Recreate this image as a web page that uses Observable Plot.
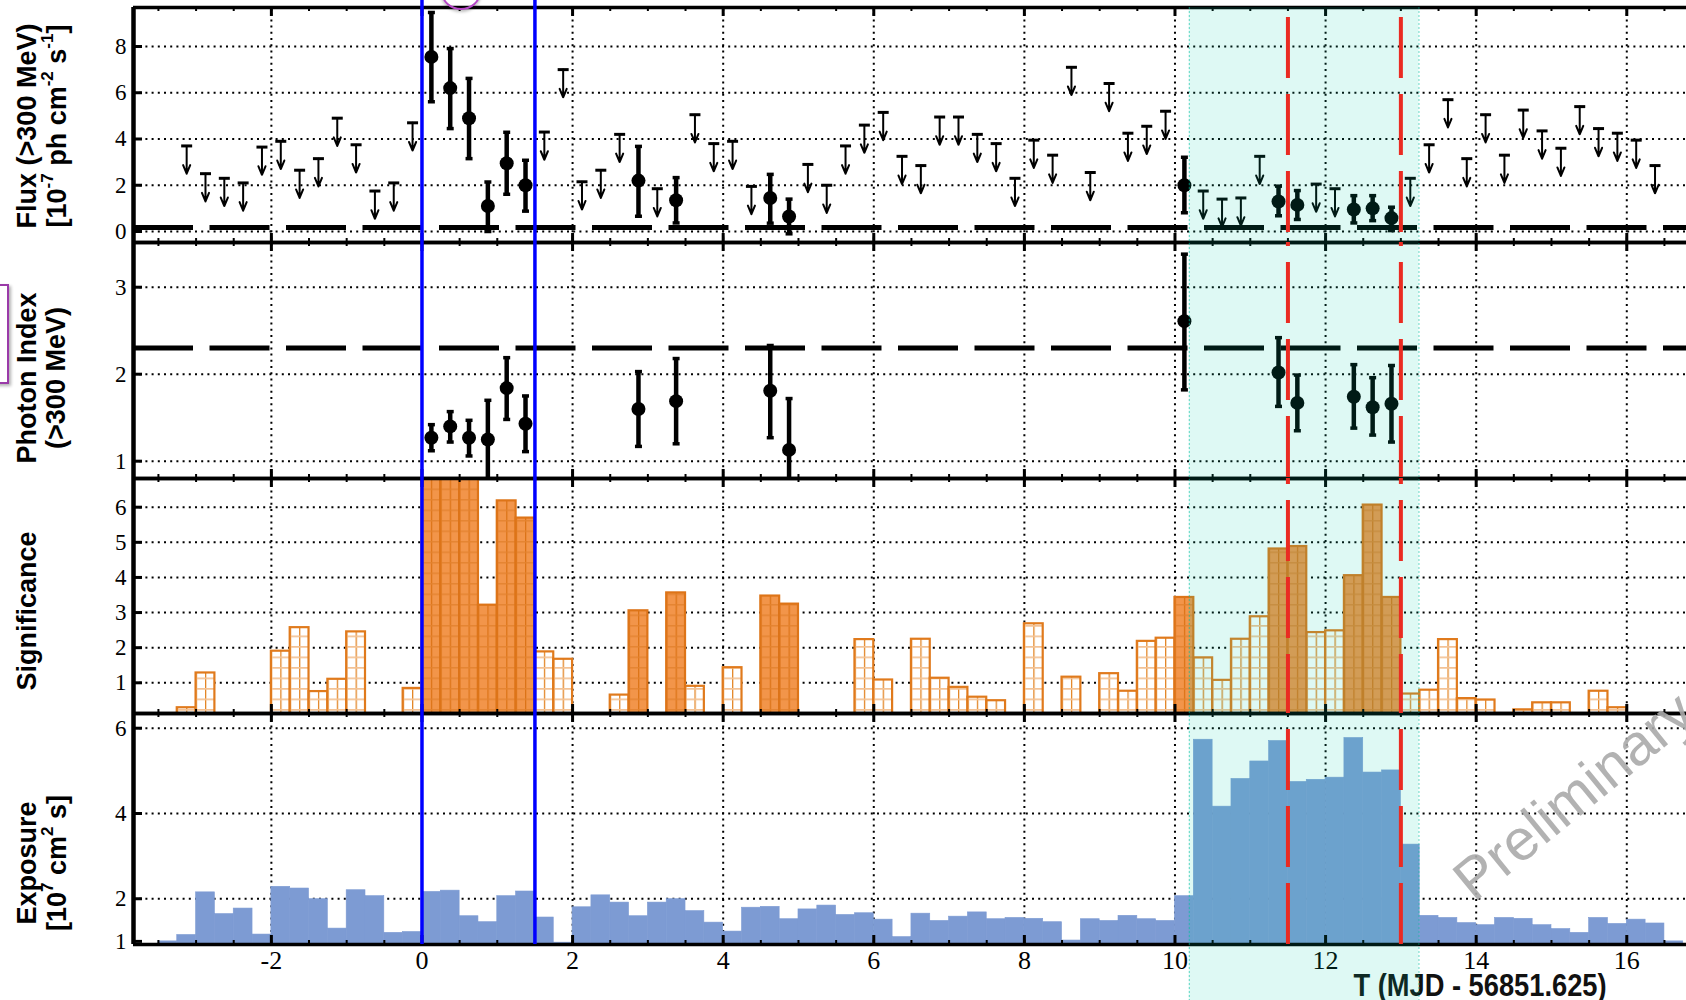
<!DOCTYPE html>
<html><head><meta charset="utf-8">
<script src="https://cdn.jsdelivr.net/npm/d3@7"></script>
<script src="https://cdn.jsdelivr.net/npm/@observablehq/plot@0.6"></script>
<style>
html,body{margin:0;padding:0;background:#fff;overflow:hidden;}
#wrap{position:relative;width:1686px;height:1000px;overflow:hidden;background:#fff;}
</style></head><body><div id="wrap"></div>
<script>
// ---------------- DATA ----------------
// x: T (MJD - 56851.625), 0.25-day bins
const xTickLabels = [-2, 0, 2, 4, 6, 8, 10, 12, 14, 16];
const blueLines = [0, 1.5];
const redLines = [11.5, 13.0];
const bandStart = [10.19];
const bandEnd = [13.24];

// Flux detections (1e-7 ph cm^-2 s^-1)
const fluxTime = [0.125,0.375,0.625,0.875,1.125,1.375,2.875,3.375,4.625,4.875,10.125,11.375,11.625,12.375,12.625,12.875];
const fluxValue = [7.55,6.2,4.9,1.1,2.95,2.0,2.2,1.35,1.45,0.65,2.0,1.3,1.15,0.95,1.0,0.58];
const fluxLow  = [5.61,4.45,3.15,0.0,1.61,0.88,0.66,0.37,0.36,-0.1,0.81,0.68,0.52,0.37,0.47,0.04];
const fluxHigh = [9.47,7.91,6.62,2.14,4.29,3.08,3.68,2.33,2.47,1.40,3.21,1.96,1.77,1.55,1.55,1.05];
// Flux upper limits
const ulTime = [-3.125,-2.875,-2.625,-2.375,-2.125,-1.875,-1.625,-1.375,-1.125,-0.875,-0.625,-0.375,-0.125,1.625,1.875,2.125,2.375,2.625,3.125,3.625,3.875,4.125,4.375,5.125,5.375,5.625,5.875,6.125,6.375,6.625,6.875,7.125,7.375,7.625,7.875,8.125,8.375,8.625,8.875,9.125,9.375,9.625,9.875,10.375,10.625,10.875,11.125,11.875,12.125,13.125,13.375,13.625,13.875,14.125,14.375,14.625,14.875,15.125,15.375,15.625,15.875,16.125,16.375];
const ulValue = [3.7,2.5,2.3,2.1,3.65,3.9,2.65,3.15,4.9,3.75,1.75,2.1,4.7,4.3,7.0,2.15,2.65,4.2,1.85,5.05,3.8,3.9,1.95,2.9,2.0,3.7,4.6,5.15,3.25,2.85,4.95,4.95,4.2,3.8,2.3,3.95,3.3,7.1,2.55,6.4,4.25,4.55,5.2,1.75,1.4,1.45,3.25,2.05,1.85,2.3,3.75,5.7,3.15,5.05,3.3,5.25,4.35,3.6,5.4,4.45,4.25,3.95,2.85];
const fluxRef = [0.17];

// Photon index
const indexTime = [0.125,0.375,0.625,0.875,1.125,1.375,2.875,3.375,4.625,4.875,10.125,11.375,11.625,12.375,12.625,12.875];
const indexValue = [1.27,1.40,1.27,1.25,1.84,1.43,1.60,1.69,1.81,1.13,2.61,2.02,1.67,1.74,1.62,1.66];
const indexLow  = [1.12,1.22,1.06,0.75,1.48,1.11,1.17,1.20,1.27,0.75,1.82,1.63,1.35,1.38,1.30,1.22];
const indexHigh = [1.42,1.57,1.47,1.70,2.19,1.75,2.03,2.18,2.33,1.72,3.38,2.42,1.99,2.11,1.96,2.10];
const indexRef = [2.3];

// Significance per bin
const sigTime = [-3.125,-2.875,-1.875,-1.625,-1.375,-1.125,-0.875,-0.125,0.125,0.375,0.625,0.875,1.125,1.375,1.625,1.875,2.625,2.875,3.375,3.625,4.125,4.625,4.875,5.875,6.125,6.625,6.875,7.125,7.375,7.625,8.125,8.625,9.125,9.375,9.625,9.875,10.125,10.375,10.625,10.875,11.125,11.375,11.625,11.875,12.125,12.375,12.625,12.875,13.125,13.375,13.625,13.875,14.125,14.625,14.875,15.125,15.625,15.875];
const sigValue = [0.29,1.28,1.90,2.57,0.75,1.10,2.45,0.84,7.4,7.3,7.2,3.21,6.18,5.69,1.88,1.67,0.65,3.05,3.56,0.90,1.43,3.47,3.24,2.23,1.08,2.24,1.13,0.87,0.59,0.49,2.68,1.16,1.26,0.76,2.18,2.27,3.43,1.71,1.07,2.24,2.88,4.81,4.88,2.43,2.48,4.05,6.06,3.43,0.68,0.79,2.23,0.55,0.51,0.23,0.43,0.43,0.76,0.29];

// Exposure per bin (1e7 cm^2 s)
const expTime = [-3.375,-3.125,-2.875,-2.625,-2.375,-2.125,-1.875,-1.625,-1.375,-1.125,-0.875,-0.625,-0.375,-0.125,0.125,0.375,0.625,0.875,1.125,1.375,1.625,1.875,2.125,2.375,2.625,2.875,3.125,3.375,3.625,3.875,4.125,4.375,4.625,4.875,5.125,5.375,5.625,5.875,6.125,6.375,6.625,6.875,7.125,7.375,7.625,7.875,8.125,8.375,8.625,8.875,9.125,9.375,9.625,9.875,10.125,10.375,10.625,10.875,11.125,11.375,11.625,11.875,12.125,12.375,12.625,12.875,13.125,13.375,13.625,13.875,14.125,14.375,14.625,14.875,15.125,15.375,15.625,15.875,16.125,16.375,16.625];
const expValue = [1.00,1.15,2.15,1.64,1.77,1.16,2.28,2.24,1.99,1.30,2.20,2.06,1.20,1.22,2.16,2.19,1.59,1.45,2.06,2.17,1.56,0.97,1.80,2.08,1.91,1.59,1.91,1.99,1.71,1.44,1.23,1.79,1.81,1.52,1.75,1.84,1.62,1.66,1.51,1.10,1.65,1.48,1.58,1.68,1.52,1.55,1.53,1.45,1.02,1.52,1.48,1.60,1.52,1.48,2.06,5.73,4.16,4.81,5.22,5.70,4.74,4.79,4.84,5.77,4.96,5.01,3.27,1.60,1.55,1.43,1.38,1.55,1.53,1.38,1.29,1.20,1.55,1.41,1.51,1.42,1.00];

// ---------------- LAYOUT ----------------
const W = 1686, ML = 133;
const xMin = -3.831, xMax = 16.793;
const binHalf = 0.125;
const ulLen = 1.2;
const wrap = document.getElementById("wrap");
const xPix = d3.scaleLinear([xMin, xMax], [ML, W]);
const minorTicks = d3.range(-3.5, 16.75, 0.5);

const fluxPts = fluxTime.map((t, i) => ({t, v: fluxValue[i], lo: fluxLow[i], hi: fluxHigh[i]}));
const ulPts = ulTime.map((t, i) => ({t, v: ulValue[i]}));
const idxPts = indexTime.map((t, i) => ({t, v: indexValue[i], lo: indexLow[i], hi: indexHigh[i]}));
const sigPts = sigTime.map((t, i) => ({t, v: sigValue[i], det: fluxTime.includes(t)}));
const expPts = expTime.map((t, i) => ({t, v: expValue[i]}));

// hatch patterns
const pw = xPix(binHalf) - xPix(0);
const px0 = xPix(-3.5);
const defs = d3.select("body").append("svg").attr("width", 0).attr("height", 0)
  .style("position", "absolute").append("defs");
function pattern(id, bg, vcol, hcol, hw) {
  const p = defs.append("pattern").attr("id", id).attr("patternUnits", "userSpaceOnUse")
    .attr("x", px0).attr("y", 0).attr("width", pw).attr("height", 10.5);
  p.append("rect").attr("width", pw).attr("height", 10.5).attr("fill", bg);
  p.append("line").attr("x1", 0.6).attr("x2", 0.6).attr("y1", 0).attr("y2", 10.5).attr("stroke", vcol).attr("stroke-width", 1.3);
  p.append("line").attr("x1", 0).attr("x2", pw).attr("y1", 0.8).attr("y2", 0.8).attr("stroke", hcol).attr("stroke-width", hw);
}
pattern("hatchFilled", "#f2954a", "#dc7316", "#e3822e", 1.3);
pattern("hatchOpen", "#ffffff", "#e2821f", "#f3c294", 1.8);

const capSymbol = {draw(ctx, size) { const w = Math.sqrt(size / Math.PI); ctx.moveTo(-w, 0); ctx.lineTo(w, 0); }};
const baseStyle = {background: "transparent", overflow: "visible", fontFamily: "'Liberation Serif','Times New Roman',serif", fontSize: "23px", color: "#000"};
const dotted = {stroke: "#000", strokeWidth: 2, strokeDasharray: "2,4.2"};

function place(svg, top) {
  svg.style.position = "absolute"; svg.style.left = "0px"; svg.style.top = top + "px";
  wrap.appendChild(svg);
}

function panel(o) {
  const mt = o.mt || 0, mb = o.mb || 0;
  const frameH = o.height - mt - mb, frameW = W - ML;
  const marks = [
    Plot.ruleY(o.yGrid, dotted),
    Plot.ruleX(xTickLabels, dotted),
    ...o.marks,
    Plot.tickX(minorTicks, {x: d => d, insetTop: frameH - 4, stroke: "#000", strokeWidth: 2}),
    Plot.tickX(minorTicks, {x: d => d, insetBottom: frameH - 4, stroke: "#000", strokeWidth: 2}),
    Plot.tickX(xTickLabels, {x: d => d, insetTop: frameH - 9, stroke: "#000", strokeWidth: 3}),
    Plot.tickX(xTickLabels, {x: d => d, insetBottom: frameH - 9, stroke: "#000", strokeWidth: 3}),
    Plot.tickY(o.yTicks, {y: d => d, insetRight: frameW - 9, stroke: "#000", strokeWidth: 3}),
    Plot.ruleY([o.yDomain[0]], {stroke: "#000", strokeWidth: 3.5}),
    Plot.ruleY([o.yDomain[1]], {stroke: "#000", strokeWidth: 3.5}),
    Plot.ruleX([xMin], {stroke: "#000", strokeWidth: 4.5}),
    Plot.axisY({ticks: o.yTicks, tickSize: 0, tickPadding: 7, fontSize: 23, tickFormat: d => String(d), label: null})
  ];
  if (o.xAxis) marks.push(Plot.axisX({ticks: xTickLabels, tickSize: 0, tickPadding: 6, fontSize: 26, tickFormat: d => String(d), label: null}));
  const svg = Plot.plot({
    width: W, height: o.height, marginLeft: ML, marginRight: 0, marginTop: mt, marginBottom: mb,
    style: baseStyle,
    x: {domain: [xMin, xMax], axis: o.xAxis ? undefined : null},
    y: {domain: o.yDomain, label: null},
    marks
  });
  place(svg, o.top);
  return o;
}

const panels = [];
// Flux
panels.push(panel({
  top: 0, height: 242, mt: 7, yDomain: [-0.476, 9.686], yTicks: [0, 2, 4, 6, 8], yGrid: [0, 2, 4, 6, 8], redOffset: 67,
  marks: [
    Plot.ruleY(fluxRef, {stroke: "#000", strokeWidth: 5, strokeDasharray: "60,16.5"}),
    Plot.arrow(ulPts, {x1: d => d.t, x2: d => d.t, y1: d => d.v, y2: d => d.v - ulLen, stroke: "#000", strokeWidth: 2, headLength: 8, headAngle: 45}),
    Plot.dot(ulPts, {x: d => d.t, y: d => d.v, symbol: capSymbol, r: 5.5, stroke: "#000", strokeWidth: 3, fill: "none"}),
    Plot.ruleX(fluxPts, {x: d => d.t, y1: d => d.lo, y2: d => d.hi, stroke: "#000", strokeWidth: 4.5, clip: true}),
    Plot.dot(fluxPts, {x: d => d.t, y: d => d.lo, symbol: capSymbol, r: 3.5, stroke: "#000", strokeWidth: 3.5, fill: "none", clip: true}),
    Plot.dot(fluxPts, {x: d => d.t, y: d => d.hi, symbol: capSymbol, r: 3.5, stroke: "#000", strokeWidth: 3.5, fill: "none"}),
    Plot.dot(fluxPts, {x: d => d.t, y: d => d.v, r: 7, fill: "#000", stroke: null})
  ]
}));
// Photon index
panels.push(panel({
  top: 242, height: 236, yDomain: [0.801, 3.514], yTicks: [1, 2, 3], yGrid: [1, 2, 3], redOffset: 57,
  marks: [
    Plot.ruleY(indexRef, {stroke: "#000", strokeWidth: 5, strokeDasharray: "60,16.5"}),
    Plot.ruleX(idxPts, {x: d => d.t, y1: d => d.lo, y2: d => d.hi, stroke: "#000", strokeWidth: 4.5, clip: true}),
    Plot.dot(idxPts, {x: d => d.t, y: d => d.lo, symbol: capSymbol, r: 3.5, stroke: "#000", strokeWidth: 3.5, fill: "none", clip: true}),
    Plot.dot(idxPts, {x: d => d.t, y: d => d.hi, symbol: capSymbol, r: 3.5, stroke: "#000", strokeWidth: 3.5, fill: "none", clip: true}),
    Plot.dot(idxPts, {x: d => d.t, y: d => d.v, r: 7, fill: "#000", stroke: null})
  ]
}));
// Significance
panels.push(panel({
  top: 478, height: 235, yDomain: [0.126, 6.817], yTicks: [1, 2, 3, 4, 5, 6], yGrid: [1, 2, 3, 4, 5, 6], redOffset: 55,
  marks: [
    Plot.rect(sigPts.filter(d => !d.det), {x1: d => d.t - binHalf, x2: d => d.t + binHalf, y1: 0, y2: d => d.v, fill: "url(#hatchOpen)", stroke: "#e07a1c", strokeWidth: 2.2, clip: true}),
    Plot.rect(sigPts.filter(d => d.det), {x1: d => d.t - binHalf, x2: d => d.t + binHalf, y1: 0, y2: d => d.v, fill: "url(#hatchFilled)", stroke: "#dd7418", strokeWidth: 2.2, clip: true})
  ]
}));
// Exposure
panels.push(panel({
  top: 713, height: 287, mb: 56, yDomain: [0.927, 6.345], yTicks: [1, 2, 4, 6], yGrid: [2, 4, 6], redOffset: 61, xAxis: true,
  marks: [
    Plot.rect(expPts, {x1: d => d.t - binHalf, x2: d => d.t + binHalf, y1: 0, y2: d => d.v, fill: "#7d9bd3", stroke: "#7d9bd3", strokeWidth: 0.6, clip: true})
  ]
}));

// ---------------- TITLES / TEXT ----------------
const tsvg = d3.select(wrap).append("svg").attr("width", W).attr("height", 1000)
  .style("position", "absolute").style("left", "0px").style("top", "0px");
function vtitle(x, y, parts) {
  const t = tsvg.append("text").attr("transform", `translate(${x},${y}) rotate(-90)`)
    .attr("text-anchor", "middle").attr("dominant-baseline", "central")
    .attr("font-family", "'Liberation Sans', Arial, sans-serif").attr("font-weight", "bold").attr("font-size", 27).attr("fill", "#000");
  let up = false;
  parts.forEach(p => {
    if (Array.isArray(p)) { t.append("tspan").attr("font-size", 17).attr("dy", up ? 0 : -10).text(p[0]); up = true; }
    else { t.append("tspan").attr("dy", up ? 10 : 0).text(p); up = false; }
  });
}
vtitle(27, 126, ["Flux (>300 MeV)"]);
vtitle(57, 126, ["[10", ["-7"], " ph cm", ["-2"], " s", ["-1"], "]"]);
vtitle(27, 378, ["Photon Index"]);
vtitle(56, 378, ["(>300 MeV)"]);
vtitle(27, 611, ["Significance"]);
vtitle(27, 863, ["Exposure"]);
vtitle(57, 863, ["[10", ["7"], " cm", ["2"], " s]"]);
tsvg.append("text").attr("transform", "translate(1480,996) scale(0.88,1)").attr("text-anchor", "middle")
  .attr("font-family", "'Liberation Sans', Arial, sans-serif").attr("font-weight", "bold").attr("font-size", 31).attr("fill", "#111")
  .text("T (MJD - 56851.625)");
tsvg.append("text").attr("transform", "translate(1474,903) rotate(-39.3)")
  .attr("font-family", "'Liberation Sans', Arial, sans-serif").attr("font-size", 58).attr("fill", "#aaaaaa").attr("fill-opacity", 0.9)
  .text("Preliminary");

// ---------------- OVERLAYS ----------------
const bandData = bandStart.map((s, i) => ({s, e: bandEnd[i]}));
place(Plot.plot({
  width: W, height: 993, marginLeft: ML, marginRight: 0, marginTop: 0, marginBottom: 0,
  style: {background: "transparent", overflow: "visible"},
  x: {domain: [xMin, xMax], axis: null},
  marks: [
    Plot.rect(bandData, {x1: d => d.s, x2: d => d.e, fill: "rgb(0,210,170)", fillOpacity: 0.13}),
    Plot.ruleX([...bandStart, ...bandEnd], {stroke: "rgb(0,190,160)", strokeOpacity: 0.6, strokeWidth: 1, strokeDasharray: "2,2"})
  ]
}), 7);

panels.forEach(o => {
  place(Plot.plot({
    width: W, height: o.height, marginLeft: ML, marginRight: 0, marginTop: o.mt || 0, marginBottom: o.mb || 0,
    style: {background: "transparent", overflow: "visible"},
    x: {domain: [xMin, xMax], axis: null},
    marks: [Plot.ruleX(redLines, {stroke: "#ea2b22", strokeWidth: 4, strokeDasharray: "61,16", strokeDashoffset: o.redOffset})]
  }), o.top);
});

place(Plot.plot({
  width: W, height: 944, marginLeft: ML, marginRight: 0, marginTop: 0, marginBottom: 0,
  style: {background: "transparent", overflow: "visible"},
  x: {domain: [xMin, xMax], axis: null},
  marks: [Plot.ruleX(blueLines, {stroke: "#0000ff", strokeWidth: 3.5})]
}), 0);

// cropped annotation marks at the edges of the original figure
const box = document.createElement("div");
box.style.cssText = "position:absolute;left:-12px;top:284px;width:17px;height:96px;border:2px solid #9a3aa8;box-shadow:2px 2px 3px rgba(0,0,0,0.3);background:#fff;";
wrap.appendChild(box);
const arc = document.createElement("div");
arc.style.cssText = "position:absolute;left:441px;top:-26px;width:36px;height:32px;border:2px solid #b548c6;border-radius:50%;box-shadow:0 2px 3px rgba(0,0,0,0.25);";
wrap.appendChild(arc);
</script></body></html>
